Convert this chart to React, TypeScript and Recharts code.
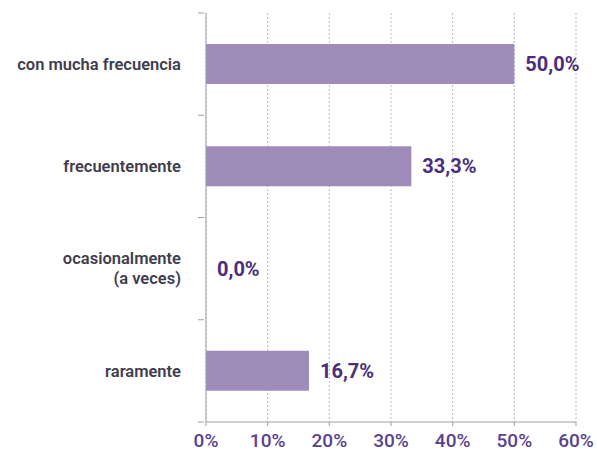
import { Bar, BarChart, CartesianGrid, LabelList, XAxis, YAxis } from 'recharts';

const categories = ['con mucha frecuencia', 'frecuentemente', 'ocasionalmente\n(a veces)', 'raramente'];
const shares = [50.0, 33.3, 0.0, 16.7];
const xTicks = [0, 10, 20, 30, 40, 50, 60];

const data = categories.map((name, i) => ({ name, value: shares[i] }));

const W = 597;
const H = 463;
const margin = { top: 13, right: 21, bottom: 9, left: 0 };
const xAxisHeight = 32;
const band = (H - margin.top - margin.bottom - xAxisHeight) / categories.length;

const barColor = '#a08cba';
const labelPurple = '#4a2e7c';
const tickPurple = '#5a4290';
const axisGrey = '#a0a0a8';
const font = 'Roboto, "Open Sans", sans-serif';

// category label plus tick marks on band edges (as in the source chart)
function CategoryTick(props: any) {
  const { x, y, payload, index } = props;
  const lines = String(payload.value).split('\n');
  const lh = 20;
  const start = y - ((lines.length - 1) * lh) / 2;
  const ax = x + 6;
  return (
    <g>
      <line x1={ax - 6} x2={ax} y1={y - band / 2} y2={y - band / 2} stroke={axisGrey} />
      {index === categories.length - 1 && (
        <line x1={ax - 6} x2={ax} y1={y + band / 2} y2={y + band / 2} stroke={axisGrey} />
      )}
      <text x={x - 17} textAnchor="end" fill="#3f3d4e" fontFamily={font} fontSize={16.5} fontWeight={600}>
        {lines.map((l, i) => (
          <tspan key={i} x={x - 17} y={start + i * lh} dy="0.35em">
            {l}
          </tspan>
        ))}
      </text>
    </g>
  );
}

export default function App() {
  return (
    <div style={{ position: 'absolute', left: 0, top: 0, width: W, height: H, background: '#fff' }}>
      <BarChart width={W} height={H} data={data} layout="vertical" margin={margin}>
        <CartesianGrid horizontal={false} stroke="#b9b9c9" strokeDasharray="2 2" />
        <XAxis
          type="number"
          domain={[0, 60]}
          ticks={xTicks}
          tickFormatter={(v) => `${v}%`}
          height={xAxisHeight}
          stroke={axisGrey}
          tickSize={4}
          tickMargin={8}
          tick={{ fill: tickPurple, fontSize: 19, fontFamily: font, fontWeight: 500 }}
        />
        <YAxis
          type="category"
          dataKey="name"
          width={206}
          stroke={axisGrey}
          tickSize={6}
          tickLine={false}
          tick={<CategoryTick />}
        />
        <Bar dataKey="value" fill={barColor} barSize={40} minPointSize={0.01} isAnimationActive={false}>
          <LabelList
            dataKey="value"
            position="right"
            offset={11}
            formatter={(v: any) => `${Number(v).toFixed(1).replace('.', ',')}%`}
            fill={labelPurple}
            fontSize={20}
            fontWeight={700}
            fontFamily={font}
          />
        </Bar>
      </BarChart>
    </div>
  );
}
